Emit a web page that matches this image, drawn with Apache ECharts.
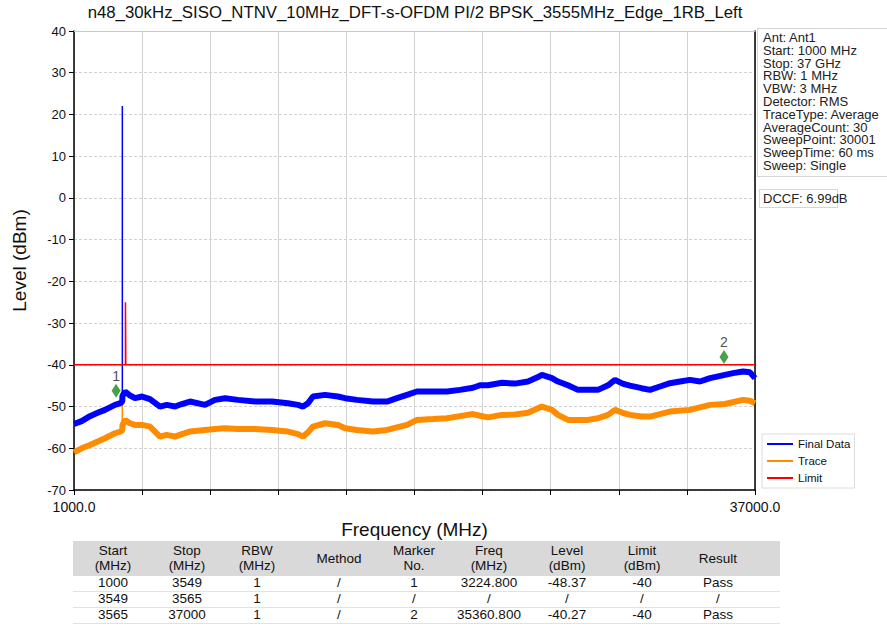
<!DOCTYPE html>
<html>
<head>
<meta charset="utf-8">
<script src="https://cdn.jsdelivr.net/npm/echarts@6/dist/echarts.min.js"></script>
<style>
html,body{margin:0;padding:0;background:#fff;}
#wrap{position:relative;width:887px;height:631px;overflow:hidden;font-family:"Liberation Sans",Arial,sans-serif;color:#111;}
#chart{position:absolute;left:0;top:0;width:887px;height:631px;}
#info{position:absolute;left:757px;top:28px;width:140px;height:149px;border:1px solid #d6d6d6;box-sizing:border-box;padding:3px 0 0 5px;font-size:13px;line-height:12.8px;white-space:pre;color:#222;}
#dccf{position:absolute;left:759px;top:189px;width:79px;height:19px;border:1px solid #d6d6d6;box-sizing:border-box;padding:2px 0 0 3px;font-size:13px;line-height:14px;white-space:pre;color:#222;}
.hbg{position:absolute;background:#d9d9d9;}
.cell{position:absolute;text-align:center;font-size:13.5px;white-space:pre;color:#111;}
.sep{position:absolute;height:1px;background:#e2e2e2;}
</style>
</head>
<body>
<div id="wrap">
  <div id="chart"></div>
  <div id="info"></div>
  <div id="dccf"></div>
  <div id="table"></div>
</div>
<script>
// ---------------- data ----------------
const titleText = 'n48_30kHz_SISO_NTNV_10MHz_DFT-s-OFDM PI/2 BPSK_3555MHz_Edge_1RB_Left';

const finalFreq = [1000,1400,1846,2250,2639,3167,3450,3549,3561,3700,3950,4225,4600,5017,5546,5900,6339,6700,7132,7925,8453,8982,9669,10568,11466,12312,12841,13105,13369,13634,14268,14955,15325,15959,16805,17545,18074,18603,19131,19977,20717,21404,22091,22461,22884,23624,24311,25000,25500,25738,26267,26584,27113,27641,28170,28699,29228,29598,30000,30391,31000,31448,31977,32506,33035,33563,34092,34621,35414,35837,36365,36735,37000];
const finalLevel = [-54.2,-53.5,-52.3,-51.5,-50.8,-49.6,-49.2,-48.8,-47.5,-46.4,-47.3,-48.0,-47.6,-48.2,-50.0,-49.6,-50.0,-49.4,-48.8,-49.6,-48.4,-48.0,-48.4,-48.8,-48.8,-49.2,-49.6,-50.0,-49.2,-47.6,-47.2,-47.6,-48.0,-48.4,-48.8,-48.8,-48.0,-47.2,-46.4,-46.4,-46.4,-46.0,-45.5,-44.9,-44.9,-44.3,-44.5,-44.0,-43.0,-42.4,-43.2,-44.0,-44.9,-46.0,-46.0,-46.0,-44.9,-43.6,-44.5,-45.0,-45.6,-46.0,-45.2,-44.4,-44.0,-43.6,-44.0,-43.2,-42.4,-42.0,-41.6,-41.8,-43.2];
const finalSpikeFreq = [3555,3555];
const finalSpikeLevel = [-48.6,22];

const traceFreq = [1000,1400,1846,2250,2639,3167,3450,3549,3561,3700,3950,4225,4600,5017,5546,5900,6339,6700,7132,7925,8453,8982,9669,10568,11466,12312,12841,13105,13369,13634,14268,14955,15325,15959,16805,17545,18074,18603,19131,19977,20717,21404,22091,22461,22884,23624,24311,25000,25738,26267,26584,27113,27641,28170,28699,29228,29598,30000,30391,31000,31448,32506,33563,34621,35414,36365,36735,37000];
const traceLevel = [-61.0,-60.0,-59.2,-58.4,-57.6,-56.4,-56.0,-55.8,-54.5,-53.2,-54.0,-54.4,-54.4,-54.8,-57.2,-56.8,-57.2,-56.6,-56.0,-55.6,-55.4,-55.2,-55.4,-55.4,-55.6,-56.0,-56.6,-57.2,-56.2,-54.8,-54.0,-54.4,-55.2,-55.6,-56.0,-55.6,-55.0,-54.4,-53.2,-53.0,-52.8,-52.3,-51.8,-52.2,-52.6,-52.0,-51.9,-51.5,-50.0,-50.8,-52.0,-53.2,-53.2,-53.2,-52.8,-52.0,-50.8,-51.5,-52.0,-52.4,-52.4,-51.2,-50.8,-49.6,-49.4,-48.4,-48.6,-49.2];
const traceSpikeFreq = [3555,3555];
const traceSpikeLevel = [-55.8,-47];

const limitFreq = [1000,3720,3720,3740,3740,37000];
const limitLevel = [-40,-40,-25,-25,-40,-40];

const markerNo = [1,2];
const markerFreq = [3224.8,35360.8];
const markerLevel = [-48.37,-40.27];

const xMin = 1000, xMax = 37000, xTickStep = 3600;
const yMin = -70, yMax = 40, yTickStep = 10;

const infoLines = ['Ant: Ant1','Start: 1000 MHz','Stop: 37 GHz','RBW: 1 MHz','VBW: 3 MHz','Detector: RMS','TraceType: Average','AverageCount: 30','SweepPoint: 30001','SweepTime: 60 ms','Sweep: Single'];
const dccfText = 'DCCF: 6.99dB';

const tableHeader = ['Start\n(MHz)','Stop\n(MHz)','RBW\n(MHz)','Method','Marker\nNo.','Freq\n(MHz)','Level\n(dBm)','Limit\n(dBm)','Result'];
const tableRows = [
  ['1000','3549','1','/','1','3224.800','-48.37','-40','Pass'],
  ['3549','3565','1','/','/','/','/','/','/'],
  ['3565','37000','1','/','2','35360.800','-40.27','-40','Pass']
];

// ---------------- layout ----------------
const colCenters = [113,187,257,339,414,489,567,642,718];
const tableLeft = 73, tableWidth = 707, headTop = 541, headH = 35, rowH = 16;

function pairs(xs, ys){ return xs.map((x,i)=>[x, ys[i]]); }

document.getElementById('info').textContent = infoLines.join('\n');
document.getElementById('dccf').textContent = dccfText;

(function buildTable(){
  const t = document.getElementById('table');
  const bg = document.createElement('div');
  bg.className = 'hbg';
  bg.style.cssText = `left:${tableLeft}px;top:${headTop}px;width:${tableWidth}px;height:${headH}px;`;
  t.appendChild(bg);
  tableHeader.forEach((h,i)=>{
    const d = document.createElement('div');
    d.className = 'cell';
    const two = h.indexOf('\n') >= 0;
    d.style.cssText = `left:${colCenters[i]-45}px;width:90px;top:${headTop + (two?2:10)}px;line-height:15px;`;
    d.textContent = h;
    t.appendChild(d);
  });
  tableRows.forEach((r,ri)=>{
    const top = headTop + headH + ri*rowH - 1;
    r.forEach((v,i)=>{
      const d = document.createElement('div');
      d.className = 'cell';
      d.style.cssText = `left:${colCenters[i]-45}px;width:90px;top:${top}px;line-height:${rowH}px;`;
      d.textContent = v;
      t.appendChild(d);
    });
    const s = document.createElement('div');
    s.className = 'sep';
    s.style.cssText = `left:${tableLeft}px;width:${tableWidth}px;top:${top+rowH}px;`;
    t.appendChild(s);
  });
})();

const chart = echarts.init(document.getElementById('chart'), null, {renderer:'svg'});
const font = '"Liberation Sans", Arial, sans-serif';
chart.setOption({
  animation:false,
  backgroundColor:'#fff',
  title:{
    text:titleText, left:415, top:4, textAlign:'center', padding:0,
    textStyle:{fontSize:16.8, fontWeight:'normal', color:'#111', fontFamily:font}
  },
  legend:{
    data:['Final Data','Trace','Limit'],
    orient:'vertical', left:762, top:434,
    icon:'rect', itemWidth:26, itemHeight:2, itemGap:5,
    textStyle:{fontSize:11.5, color:'#111', fontFamily:font},
    borderColor:'#dcdcdc', borderWidth:1, padding:[4,4,4,5], backgroundColor:'#fff',
    selectedMode:false
  },
  grid:{left:74, right:132, top:31, bottom:141, containLabel:false},
  xAxis:[
    {type:'value', min:xMin, max:xMax, position:'bottom',
     name:'Frequency (MHz)', nameLocation:'middle', nameGap:30,
     nameTextStyle:{fontSize:19, color:'#111', fontFamily:font},
     axisLine:{onZero:false, lineStyle:{color:'#000', width:1.5}},
     axisTick:{show:false}, splitLine:{show:false},
     axisLabel:{fontSize:14, color:'#111', fontFamily:font, margin:10,
       showMinLabel:true, showMaxLabel:true,
       formatter:v=> (v===xMin||v===xMax) ? v.toFixed(1) : ''}},
    {type:'value', min:0, max:xMax-xMin, interval:xTickStep, position:'bottom',
     axisLine:{show:false, onZero:false}, axisLabel:{show:false},
     axisTick:{show:true, length:5, lineStyle:{color:'#000', width:1}},
     splitLine:{show:true, lineStyle:{color:'#d2d2d2', width:1}}},
    {type:'value', min:xMin, max:xMax, position:'top',
     axisLine:{show:true, onZero:false, lineStyle:{color:'#c8c8c8', width:1}},
     axisTick:{show:false}, axisLabel:{show:false}, splitLine:{show:false}}
  ],
  yAxis:[
    {type:'value', min:yMin, max:yMax, interval:yTickStep,
     name:'Level (dBm)', nameLocation:'middle', nameGap:45,
     nameTextStyle:{fontSize:19, color:'#111', fontFamily:font},
     axisLine:{show:true, onZero:false, lineStyle:{color:'#000', width:1.5}},
     axisTick:{show:true, length:5, lineStyle:{color:'#000'}},
     axisLabel:{fontSize:13, color:'#111', fontFamily:font, margin:8},
     splitLine:{show:true, lineStyle:{color:'#d2d2d2', width:1, type:[3,2]}}},
    {type:'value', min:yMin, max:yMax, position:'right',
     axisLine:{show:true, onZero:false, lineStyle:{color:'#000', width:1.5}},
     axisTick:{show:false}, axisLabel:{show:false}, splitLine:{show:false}}
  ],
  series:[
    {name:'Trace', type:'line', data:pairs(traceFreq, traceLevel), showSymbol:false, symbol:'none',
     lineStyle:{color:'#ff8c00', width:6}, itemStyle:{color:'#ff8c00'}, z:2},
    {name:'Trace', type:'line', data:pairs(traceSpikeFreq, traceSpikeLevel), showSymbol:false, symbol:'none',
     lineStyle:{color:'#ff8c00', width:1.5}, itemStyle:{color:'#ff8c00'}, z:2},
    {name:'Final Data', type:'line', data:pairs(finalFreq, finalLevel), showSymbol:false, symbol:'none',
     lineStyle:{color:'#0000ff', width:6}, itemStyle:{color:'#0000ff'}, z:3},
    {name:'Final Data', type:'line', data:pairs(finalSpikeFreq, finalSpikeLevel), showSymbol:false, symbol:'none',
     lineStyle:{color:'#0000ff', width:1.5}, itemStyle:{color:'#0000ff'}, z:3},
    {name:'Limit', type:'line', data:pairs(limitFreq, limitLevel), showSymbol:false, symbol:'none',
     lineStyle:{color:'#ff0000', width:1.5}, itemStyle:{color:'#ff0000'}, z:4},
    {name:'Marker', type:'scatter', data:markerFreq.map((f,i)=>({value:[f, markerLevel[i]], no:markerNo[i]})),
     symbol:'diamond', symbolSize:[9,14], symbolOffset:[0,-9],
     itemStyle:{color:'#1a8a1a'}, z:5,
     label:{show:true, position:'top', distance:1, fontSize:14, color:'#222', fontFamily:font,
       formatter:p=>String(p.data.no)}}
  ]
});
</script>
</body>
</html>
